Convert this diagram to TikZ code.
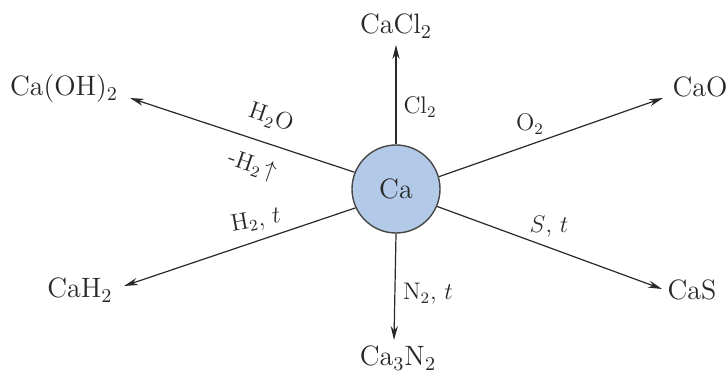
\documentclass[tikz,border=0pt]{standalone}
\usepackage{fix-cm}
\usetikzlibrary{arrows.meta}
\definecolor{cafill}{RGB}{178,201,232}
\definecolor{inkgray}{RGB}{40,40,40}
\begin{document}
\begin{tikzpicture}[x=0.5pt, y=-0.5pt,
  every node/.style={font=\fontsize{14}{16}\selectfont, text=inkgray},
  prod/.style={anchor=base, inner sep=0pt},
  cond/.style={font=\fontsize{12}{14}\selectfont, inner sep=0pt},
  react/.style={draw=inkgray, line width=0.6pt, -{Stealth[length=7pt, width=3.6pt]}}]
  \useasboundingbox (0,0) rectangle (728,378);
  \node[circle, draw=inkgray!85, line width=0.7pt, fill=cafill, minimum size=44pt, inner sep=0pt] (ca) at (396,189) {Ca};

  % products
  \node[prod] (cacl) at (396,34) {CaCl$_2$};
  \node[prod] (can) at (398,366) {Ca$_3$N$_2$};
  \node[prod] (caoh) at (64,96) {Ca(OH)$_2$};
  \node[prod] (cah) at (80,298) {CaH$_2$};
  \node[prod] (cao) at (700,97) {CaO};
  \node[prod] (cas) at (692,300) {CaS};

  % arrow tips
  \coordinate (tipcl) at (396,45);
  \coordinate (tipn) at (394,340);
  \coordinate (tipoh) at (130,98);
  \coordinate (tiph) at (124,286);
  \coordinate (tipo) at (663,98);
  \coordinate (tips) at (662,289);

  \draw[react] (ca.90) -- (tipcl);
  \draw[react] (ca.-90) -- (tipn);
  \draw[react] (ca.158) -- (tipoh);
  \draw[react] (ca.205) -- (tiph);
  \draw[react] (ca.16) -- (tipo);
  \draw[react] (ca.-23) -- (tips);

  % conditions
  \node[cond] (lcl) at (420,107) {Cl$_2$};
  \node[cond] (ln) at (428,294) {N$_2$, $t$};
  \node[cond, rotate=-19] (lwat) at (271,118) {H$_2$O};
  \node[cond, rotate=-19] (lgas) at (252,166) {-H$_2\!\uparrow$};
  \node[cond, rotate=10] (lhyd) at (256,221) {H$_2$, $t$};
  \node[cond] (lox) at (530,124) {O$_2$};
  \node[cond] (lsul) at (549,227) {$S$, $t$};
\end{tikzpicture}
\end{document}
